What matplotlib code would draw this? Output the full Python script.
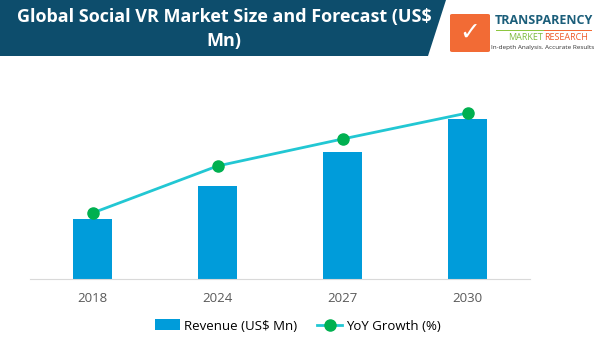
import matplotlib.pyplot as plt
from matplotlib.patches import Polygon, Rectangle, FancyBboxPatch
from matplotlib.lines import Line2D

# Colors
band_blue = "#0D4D6C"
bar_blue = "#009CDA"
line_teal = "#22C7D3"
dot_green = "#00B050"
axis_gray = "#D9D9D9"
tick_gray = "#595959"

# Data
years = ["2018", "2024", "2027", "2030"]
revenue = [60, 93, 127, 160]
yoy_growth = [66, 113, 140, 166]

W, H = 596, 348
fig = plt.figure(figsize=(W / 100, H / 100), dpi=100, facecolor="white")

# Header band with slanted edge
band = Polygon([(0, 1), (446 / W, 1), (428 / W, 1 - 56 / H), (0, 1 - 56 / H)],
               closed=True, transform=fig.transFigure, facecolor=band_blue,
               edgecolor="none")
fig.patches.append(band)

fig.text(224 / W, 1 - 17 / H, "Global Social VR Market Size and Forecast (US\\$",
         ha="center", va="center", color="white", fontsize=13,
         fontweight="bold", family="Open Sans")
fig.text(224 / W, 1 - 41 / H, "Mn)", ha="center", va="center", color="white",
         fontsize=13, fontweight="bold", family="Open Sans")

# Logo
logo = FancyBboxPatch((450 / W, 1 - 52 / H), 40 / W, 38 / H,
                      boxstyle="round,pad=0,rounding_size=0.004",
                      transform=fig.transFigure, facecolor="#F26B35",
                      edgecolor="none")
fig.patches.append(logo)
fig.text(470 / W, 1 - 33 / H, "\u2713", ha="center", va="center", color="white",
         fontsize=18, fontweight="bold", family="DejaVu Sans")
fig.text(495 / W, 1 - 21 / H, "TRANSPARENCY", ha="left", va="center",
         color="#1B5E7A", fontsize=9, fontweight="bold", family="Open Sans")
fig.patches.append(Rectangle((496 / W, 1 - 31 / H), 48 / W, 1.5 / H,
                             transform=fig.transFigure, facecolor="#8DC63F",
                             edgecolor="none"))
fig.patches.append(Rectangle((544 / W, 1 - 31 / H), 48 / W, 1.5 / H,
                             transform=fig.transFigure, facecolor="#F26B35",
                             edgecolor="none"))
fig.text(508 / W, 1 - 38 / H, "MARKET", ha="left", va="center",
         color="#7DBB3F", fontsize=6.5, family="Open Sans")
fig.text(544 / W, 1 - 38 / H, "RESEARCH", ha="left", va="center",
         color="#EE5A2A", fontsize=6.5, family="Open Sans")
fig.text(543 / W, 1 - 47 / H, "In-depth Analysis. Accurate Results",
         ha="center", va="center", color="#333333", fontsize=4.6,
         family="Open Sans")

# Chart
ax = fig.add_axes([30 / W, 69 / H, 500 / W, 200 / H])
x = range(len(years))
ax.bar(x, revenue, width=0.31, color=bar_blue, zorder=2,
       label="Revenue (US\\$ Mn)")
ax.set_xlim(-0.5, len(years) - 0.5)
ax.set_ylim(0, 200)

ax2 = ax.twinx()
ax2.plot(x, yoy_growth, color=line_teal, linewidth=2, marker="o",
         markersize=8, markerfacecolor=dot_green, markeredgecolor=dot_green,
         zorder=3, label="YoY Growth (%)")
ax2.set_ylim(0, 200)

for a in (ax, ax2):
    for side in ("top", "right", "left"):
        a.spines[side].set_visible(False)
    a.set_yticks([])
ax.spines["bottom"].set_color(axis_gray)
ax2.spines["bottom"].set_visible(False)

ax.set_xticks(list(x))
ax.set_xticklabels(years, color=tick_gray, fontsize=9.5, family="Open Sans")
ax.tick_params(axis="x", length=0, pad=9)

# Legend
handles = [Rectangle((0, 0), 1, 1, facecolor=bar_blue),
           Line2D([0], [0], color=line_teal, linewidth=2, marker="o",
                  markersize=8, markerfacecolor=dot_green,
                  markeredgecolor=dot_green)]
fig.legend(handles, ["Revenue (US\\$ Mn)", "YoY Growth (%)"],
           loc="center", bbox_to_anchor=(298 / W, 1 - 326 / H), ncol=2,
           frameon=False, prop={"family": "Open Sans", "size": 9.5},
           handlelength=1.9, handleheight=0.9, handletextpad=0.3,
           columnspacing=1.5)

fig.savefig("out.png", dpi=100, facecolor="white")
